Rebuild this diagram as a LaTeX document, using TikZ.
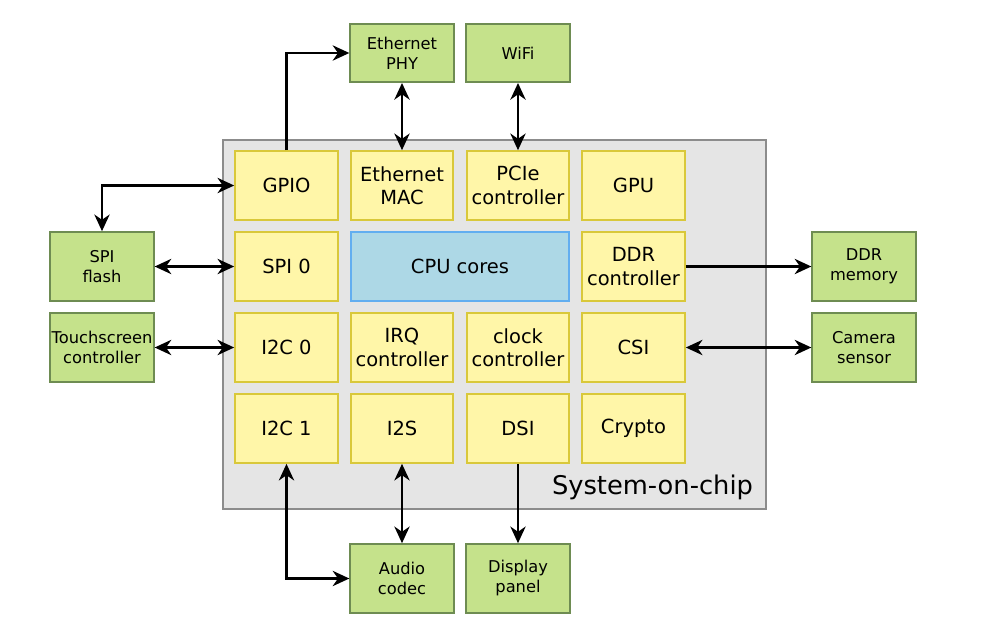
\documentclass[tikz,border=0pt]{standalone}
\usepackage{fontspec}
\setmainfont{DejaVu Sans}
\usetikzlibrary{arrows.meta}
\definecolor{socfill}{HTML}{E5E5E5}
\definecolor{socline}{HTML}{8C8C8C}
\definecolor{blkfill}{HTML}{FFF6A8}
\definecolor{blkline}{HTML}{D9C83A}
\definecolor{extfill}{HTML}{C5E28B}
\definecolor{extline}{HTML}{6E8C52}
\definecolor{cpufill}{HTML}{ADD8E6}
\definecolor{cpuline}{HTML}{62AEF0}
\begin{document}
\begin{tikzpicture}[
  x=0.75pt, y=-0.75pt,
  blk/.style={draw=blkline, fill=blkfill, line width=1.5pt, align=center, inner sep=0pt,
    minimum width=77pt, minimum height=51.5pt, font=\fontsize{14.6}{17.5}\selectfont},
  ext/.style={draw=extline, fill=extfill, line width=1.5pt, align=center, inner sep=0pt,
    minimum width=77.5pt, minimum height=51.5pt, font=\fontsize{12.2}{15}\selectfont},
  con/.style={line width=1.6pt, -{Stealth[length=12.5pt,width=11.5pt,inset=4pt]}},
  bi/.style={con, {Stealth[length=12.5pt,width=11.5pt,inset=4pt]}-{Stealth[length=12.5pt,width=11.5pt,inset=4pt]}}
]
  \useasboundingbox (0,0) rectangle (1008,625);
  % chip outline
  \draw[draw=socline, fill=socfill, line width=1.5pt] (223,140) rectangle (766,509);
  \node[font=\fontsize{19.3}{23}\selectfont] (soc) at (652.5,487.5) {System-on-chip};

  % blocks inside the chip
  \node[blk] (gpio) at (286.5,185.5) {GPIO};
  \node[blk] (mac)  at (402,185.5)   {Ethernet\\MAC};
  \node[blk] (pcie) at (518,185.5)   {PCIe\\controller};
  \node[blk] (gpu)  at (633.5,185.5) {GPU};
  \node[blk] (spi)  at (286.5,266.5) {SPI 0};
  \node[blk, draw=cpuline, fill=cpufill, minimum width=164pt] (cpu) at (460,266.5) {CPU cores};
  \node[blk] (ddr)  at (633.5,266.5) {DDR\\controller};
  \node[blk] (iic0) at (286.5,347.5) {I2C 0};
  \node[blk] (irq)  at (402,347.5)   {IRQ\\controller};
  \node[blk] (clk)  at (518,347.5)   {clock\\controller};
  \node[blk] (csi)  at (633.5,347.5) {CSI};
  \node[blk] (iic1) at (286.5,428.5) {I2C 1};
  \node[blk] (iis)  at (402,428.5)   {I2S};
  \node[blk] (dsi)  at (518,428.5)   {DSI};
  \node[blk] (cry)  at (633.5,428.5) {Crypto};

  % external parts
  \node[ext, minimum height=43.5pt] (phy)  at (402,53)    {Ethernet\\PHY};
  \node[ext, minimum height=43.5pt] (wifi) at (518,53)    {WiFi};
  \node[ext] (flash) at (102,266.5) {SPI\\flash};
  \node[ext] (touch) at (102,347.5) {Touchscreen\\controller};
  \node[ext] (mem)   at (864,266.5) {DDR\\memory};
  \node[ext] (cam)   at (864,347.5) {Camera\\sensor};
  \node[ext] (audio) at (402,578.5) {Audio\\codec};
  \node[ext] (disp)  at (518,578.5) {Display\\panel};

  \draw[con] (gpio.north) |- (phy.west);
  \draw[bi] (gpio.west) -| (flash.north);
  \draw[bi] (flash) -- (spi);
  \draw[bi] (touch) -- (iic0);
  \draw[bi] (phy) -- (mac);
  \draw[bi] (wifi) -- (pcie);
  \draw[con] (ddr) -- (mem);
  \draw[bi] (csi) -- (cam);
  \draw[bi] (iic1.south) |- (audio.west);
  \draw[bi] (iis) -- (audio);
  \draw[con] (dsi) -- (disp);
\end{tikzpicture}
\end{document}
